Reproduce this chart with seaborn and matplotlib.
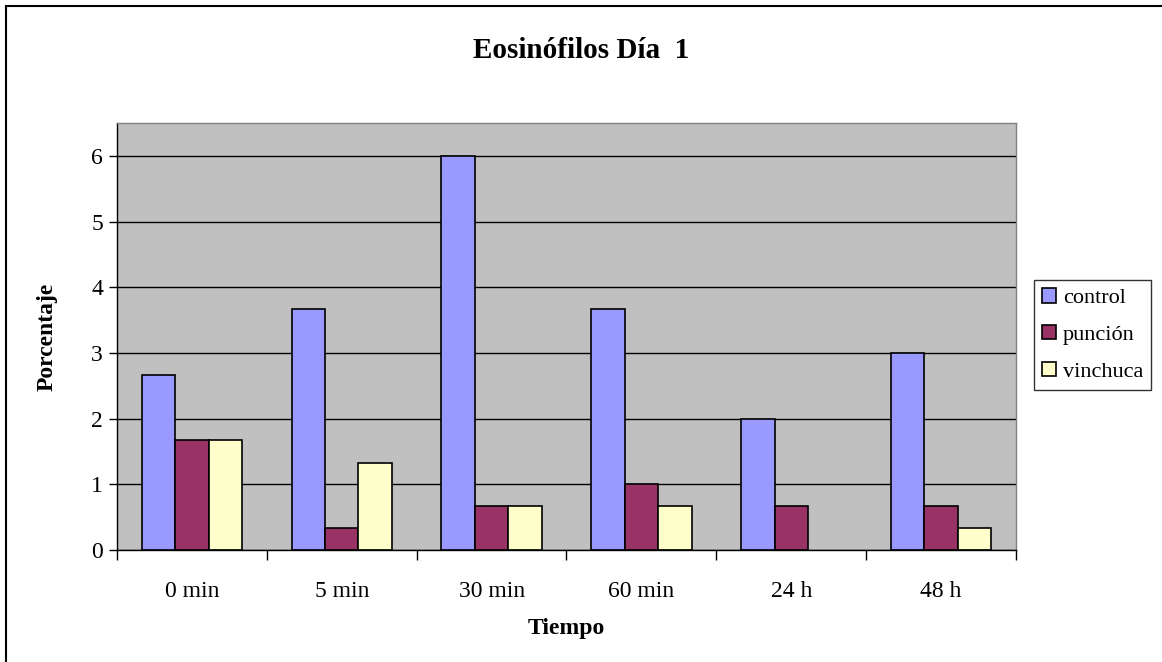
import matplotlib
matplotlib.use("Agg")
import matplotlib.pyplot as plt
import seaborn as sns
import pandas as pd
from matplotlib.patches import Patch, Rectangle

categories = ["0 min", "5 min", "30 min", "60 min", "24 h", "48 h"]
control = [2.67, 3.67, 6.0, 3.67, 2.0, 3.0]
puncion = [1.67, 0.33, 0.67, 1.0, 0.67, 0.67]
vinchuca = [1.67, 1.33, 0.67, 0.67, 0.0, 0.33]
series_names = ["control", "punción", "vinchuca"]
colors = ["#9999FF", "#993366", "#FFFFCC"]

df = pd.DataFrame({
    "Tiempo": categories * 3,
    "valor": control + puncion + vinchuca,
    "serie": [s for s in series_names for _ in categories],
})

sns.set_theme(style="white")
plt.rcParams["font.family"] = ["Liberation Serif", "DejaVu Serif"]
plt.rcParams["text.color"] = "black"
plt.rcParams["axes.labelcolor"] = "black"
plt.rcParams["xtick.color"] = "black"
plt.rcParams["ytick.color"] = "black"

fig = plt.figure(figsize=(11.62, 6.62), dpi=100)
ax = fig.add_axes([117 / 1162, 1 - 550 / 662, (1016 - 117) / 1162, (550 - 123) / 662])

sns.barplot(data=df, x="Tiempo", y="valor", hue="serie", order=categories,
            hue_order=series_names, palette=colors, width=0.67, gap=0,
            edgecolor="black", linewidth=1.2, saturation=1, ax=ax, legend=False)

# zero-height bars leave no visible mark
for bar in ax.patches:
    if bar.get_height() == 0:
        bar.set_visible(False)

ax.set_facecolor("#C0C0C0")
ax.set_ylim(0, 6.5)
ax.set_xlim(-0.5, len(categories) - 0.5)
ax.set_yticks(range(0, 7))
ax.yaxis.grid(True, color="black", linewidth=1.0)
ax.set_axisbelow(True)
for side in ["top", "right"]:
    ax.spines[side].set_color("#808080")
    ax.spines[side].set_linewidth(1.0)
for side in ["left", "bottom"]:
    ax.spines[side].set_color("black")
    ax.spines[side].set_linewidth(1.0)

ax.set_xticks(range(len(categories)))
ax.set_xticklabels(categories, fontsize=17)
ax.tick_params(axis="x", which="major", length=0, pad=22)
ax.set_xticks([i - 0.5 for i in range(len(categories) + 1)], minor=True)
ax.tick_params(axis="x", which="minor", length=7, width=1, color="black", direction="out", bottom=True)
ax.tick_params(axis="y", length=6, width=1, color="black", direction="out", left=True, labelsize=17, pad=4)

ax.set_xlabel("Tiempo", fontsize=17, fontweight="bold", labelpad=12)
ax.set_ylabel("Porcentaje", fontsize=17, fontweight="bold", labelpad=24)

fig.text(581 / 1162, 1 - 50 / 662, "Eosinófilos Día  1", ha="center", va="center",
         fontsize=21, fontweight="bold")

handles = [Patch(facecolor=c, edgecolor="black", linewidth=1.2, label=n)
           for c, n in zip(colors, series_names)]
leg = fig.legend(handles=handles, loc="upper left",
                 bbox_to_anchor=(1034 / 1162, 1 - 280 / 662),
                 fontsize=16, frameon=True, fancybox=False,
                 handlelength=0.65, handleheight=0.65, handletextpad=0.3,
                 labelspacing=0.75, borderpad=0.35, borderaxespad=0)
leg.get_frame().set_edgecolor("black")
leg.get_frame().set_linewidth(1.0)

fig.patches.append(Rectangle((6 / 1162, -0.1), 1.2, 1 - 6 / 662 + 0.1,
                             transform=fig.transFigure, fill=False,
                             edgecolor="black", linewidth=1.5))

fig.savefig("out.png", dpi=100, facecolor="white")
